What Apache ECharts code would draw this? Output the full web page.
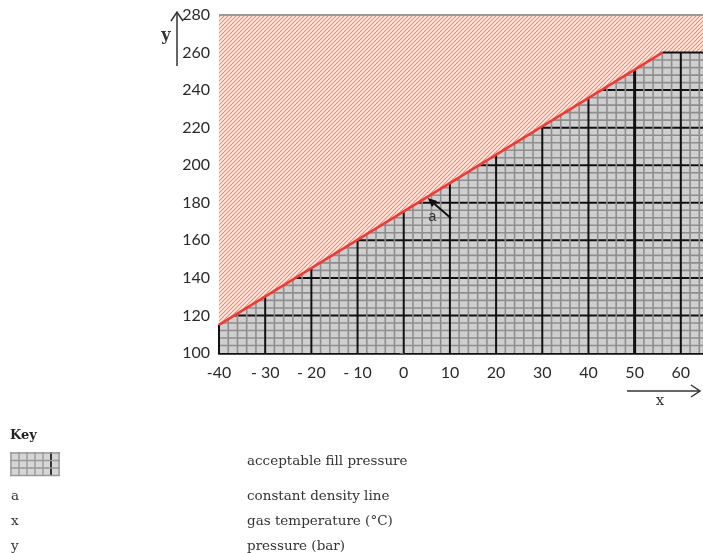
<!DOCTYPE html>
<html>
<head>
<meta charset="utf-8">
<script src="https://cdn.jsdelivr.net/npm/echarts@6/dist/echarts.min.js"></script>
<style>
  html, body { margin: 0; padding: 0; background: #fff; }
  #chart { width: 703px; height: 553px; }
</style>
</head>
<body>
<div id="chart"></div>
<script>
// Upper limit of the acceptable fill pressure (constant density line, capped at 260 bar)
const limitTemp = [-40, 56, 70];        // gas temperature, °C
const limitPressure = [115, 260, 260];  // pressure, bar

// Axis tick labels
const xTickLabels = ['-40', '- 30', '- 20', '- 10', '0', '10', '20', '30', '40', '50', '60', '70'];
const yTickLabels = ['100', '120', '140', '160', '180', '200', '220', '240', '260', '280'];

// Key entries
const keyCodes = ['a', 'x', 'y'];
const keyTexts = ['acceptable fill pressure', 'constant density line', 'gas temperature (°C)', 'pressure (bar)'];

// Annotation "a" (data coordinates)
const annotTip = [5.2, 182.5];
const annotTail = [10.3, 171.6];
const annotLabel = [6.2, 172.3];

const X_MIN = -40, X_MAX = 70, Y_MIN = 100, Y_MAX = 280;

function topAt(x) {
  for (let i = 0; i < limitTemp.length - 1; i++) {
    const x0 = limitTemp[i], x1 = limitTemp[i + 1];
    if (x >= x0 && x <= x1) {
      return limitPressure[i] + (limitPressure[i + 1] - limitPressure[i]) * (x - x0) / (x1 - x0);
    }
  }
  return limitPressure[limitPressure.length - 1];
}
function leftAt(y) {
  if (y <= limitPressure[0]) return limitTemp[0];
  for (let i = 0; i < limitTemp.length - 1; i++) {
    const y0 = limitPressure[i], y1 = limitPressure[i + 1];
    if (y1 > y0 && y >= y0 && y <= y1) {
      return limitTemp[i] + (limitTemp[i + 1] - limitTemp[i]) * (y - y0) / (y1 - y0);
    }
  }
  return limitTemp[limitTemp.length - 1];
}

// Red diagonal hatch for the region above the limit
function makeHatch() {
  const s = 4;
  const c = document.createElement('canvas');
  c.width = s; c.height = s;
  const g = c.getContext('2d');
  g.fillStyle = '#fdf1ec';
  g.fillRect(0, 0, s, s);
  g.strokeStyle = '#ea8a74';
  g.lineWidth = 1.1;
  g.beginPath();
  g.moveTo(-1, s + 1); g.lineTo(s + 1, -1);
  g.moveTo(-1, 1); g.lineTo(1, -1);
  g.moveTo(s - 1, s + 1); g.lineTo(s + 1, s - 1);
  g.stroke();
  return c;
}
const hatch = makeHatch();

const chart = echarts.init(document.getElementById('chart'), null, { renderer: 'canvas' });

function renderChart(params, api) {
  const P = (x, y) => api.coord([x, y]);
  const children = [];
  const boundary = limitTemp.map((t, i) => P(t, limitPressure[i]));

  // hatched region above the limit
  children.push({
    type: 'polygon',
    shape: { points: boundary.concat([P(X_MAX, Y_MAX), P(X_MIN, Y_MAX)]) },
    style: { fill: { image: hatch, repeat: 'repeat' } },
    silent: true
  });
  // grey acceptable region
  children.push({
    type: 'polygon',
    shape: { points: boundary.concat([P(X_MAX, Y_MIN), P(X_MIN, Y_MIN)]) },
    style: { fill: '#cfcfcf' },
    silent: true
  });

  const line = (a, b, stroke, w) => children.push({
    type: 'line',
    shape: { x1: a[0], y1: a[1], x2: b[0], y2: b[1] },
    style: { stroke: stroke, lineWidth: w },
    silent: true
  });

  // horizontal grid lines (minor every 4 bar, major every 20 bar)
  for (let y = Y_MIN + 4; y < limitPressure[limitPressure.length - 1]; y += 4) {
    if (y % 20 !== 0) line(P(leftAt(y), y), P(X_MAX, y), '#8e8e8e', 1.6);
  }
  for (let y = Y_MIN + 20; y < limitPressure[limitPressure.length - 1]; y += 20) {
    line(P(leftAt(y), y), P(X_MAX, y), '#111', 2);
  }
  // vertical grid lines (minor every 2 °C, major every 10 °C)
  for (let x = X_MIN; x <= X_MAX; x += 2) {
    if (x % 10 !== 0) line(P(x, Y_MIN), P(x, topAt(x)), '#8e8e8e', 1.6);
  }
  for (let x = X_MIN; x <= X_MAX; x += 10) {
    line(P(x, Y_MIN), P(x, topAt(x)), '#111', x === 50 ? 3 : 2);
  }
  // cap at 260 bar
  const n = limitTemp.length;
  line(boundary[n - 2], boundary[n - 1], '#111', 2);

  // constant density line
  children.push({
    type: 'polyline',
    shape: { points: boundary.slice(0, n - 1) },
    style: { stroke: '#f23a32', lineWidth: 2.6, fill: null },
    silent: true
  });

  // top border
  line(P(X_MIN, Y_MAX), P(X_MAX, Y_MAX), '#9a9a9a', 2);

  // annotation arrow "a"
  const tip = P(annotTip[0], annotTip[1]);
  const tail = P(annotTail[0], annotTail[1]);
  const ang = Math.atan2(tip[1] - tail[1], tip[0] - tail[0]);
  const hl = 9, hw = 4;
  const bx = tip[0] - hl * Math.cos(ang), by = tip[1] - hl * Math.sin(ang);
  line(tail, [bx, by], '#111', 2);
  children.push({
    type: 'polygon',
    shape: { points: [tip,
      [bx + hw * Math.sin(ang), by - hw * Math.cos(ang)],
      [bx - hw * Math.sin(ang), by + hw * Math.cos(ang)]] },
    style: { fill: '#111' },
    silent: true
  });
  const lp = P(annotLabel[0], annotLabel[1]);
  children.push({
    type: 'text',
    x: lp[0], y: lp[1],
    style: { text: keyCodes[0], fill: '#333', font: '14px "Liberation Sans", sans-serif', align: 'center', verticalAlign: 'middle' },
    silent: true
  });

  return { type: 'group', children: children };
}

const serif = '"DejaVu Serif", serif';
const keyX = 247;
const keyRows = [461, 496, 521, 546];

const graphics = [
  // y-axis arrow
  { type: 'line', shape: { x1: 177, y1: 66, x2: 177, y2: 13 }, style: { stroke: '#333', lineWidth: 1.5 } },
  { type: 'polyline', shape: { points: [[171, 21], [177, 12], [183, 21]] }, style: { stroke: '#333', lineWidth: 1.5, fill: null } },
  { type: 'text', x: 166, y: 36, style: { text: 'y', font: 'bold 16px ' + serif, fill: '#333', align: 'center', verticalAlign: 'middle' } },
  // x-axis arrow
  { type: 'line', shape: { x1: 627, y1: 391, x2: 700, y2: 391 }, style: { stroke: '#333', lineWidth: 1.5 } },
  { type: 'polyline', shape: { points: [[691, 385], [700, 391], [691, 397]] }, style: { stroke: '#333', lineWidth: 1.5, fill: null } },
  { type: 'text', x: 660, y: 401, style: { text: 'x', font: '15px ' + serif, fill: '#333', align: 'center', verticalAlign: 'middle' } },
  // key
  { type: 'text', x: 10, y: 436, style: { text: 'Key', font: 'bold 13px ' + serif, fill: '#222', verticalAlign: 'middle' } }
];

// key swatch: small piece of the grid
const sw = { x: 10, y: 452, w: 50, h: 24 };
graphics.push({ type: 'rect', shape: { x: sw.x, y: sw.y, width: sw.w, height: sw.h }, style: { fill: '#d6d6d6' } });
for (let i = 0; i <= 6; i++) {
  const xx = sw.x + 1 + i * 8;
  graphics.push({ type: 'line', shape: { x1: xx, y1: sw.y, x2: xx, y2: sw.y + sw.h }, style: { stroke: i === 5 ? '#333' : '#999', lineWidth: i === 5 ? 2 : 1.4 } });
}
for (let j = 0; j <= 3; j++) {
  const yy = sw.y + 1 + j * 7.5;
  graphics.push({ type: 'line', shape: { x1: sw.x, y1: yy, x2: sw.x + sw.w, y2: yy }, style: { stroke: '#999', lineWidth: 1.4 } });
}
keyTexts.forEach((t, i) => {
  graphics.push({ type: 'text', x: keyX, y: keyRows[i], style: { text: t, font: '13.5px ' + serif, fill: '#333', verticalAlign: 'middle' } });
  if (i > 0) {
    graphics.push({ type: 'text', x: 11, y: keyRows[i], style: { text: keyCodes[i - 1], font: '13.5px ' + serif, fill: '#333', verticalAlign: 'middle' } });
  }
});

const labelFont = { fontFamily: 'Lato, "Open Sans", sans-serif', fontSize: 16, color: '#2a2a2a' };

chart.setOption({
  animation: false,
  grid: { left: 219, top: 15, width: 508, height: 338, outerBoundsMode: 'none', containLabel: false },
  xAxis: {
    type: 'value', min: X_MIN, max: X_MAX, interval: 10,
    axisLine: { show: true, onZero: false, lineStyle: { color: '#111', width: 2.5 } },
    axisTick: { show: false },
    splitLine: { show: false },
    axisLabel: Object.assign({ margin: 12, formatter: (v, i) => xTickLabels[i] }, labelFont)
  },
  yAxis: {
    type: 'value', min: Y_MIN, max: Y_MAX, interval: 20,
    axisLine: { show: false },
    axisTick: { show: true, length: 4, lineStyle: { color: '#555', width: 1.2 } },
    splitLine: { show: false },
    axisLabel: Object.assign({ margin: 9, formatter: (v, i) => yTickLabels[i] }, labelFont)
  },
  series: [{
    type: 'custom',
    coordinateSystem: 'cartesian2d',
    data: [[0, 0]],
    renderItem: renderChart,
    z: 1
  }],
  graphic: graphics
});
</script>
</body>
</html>
